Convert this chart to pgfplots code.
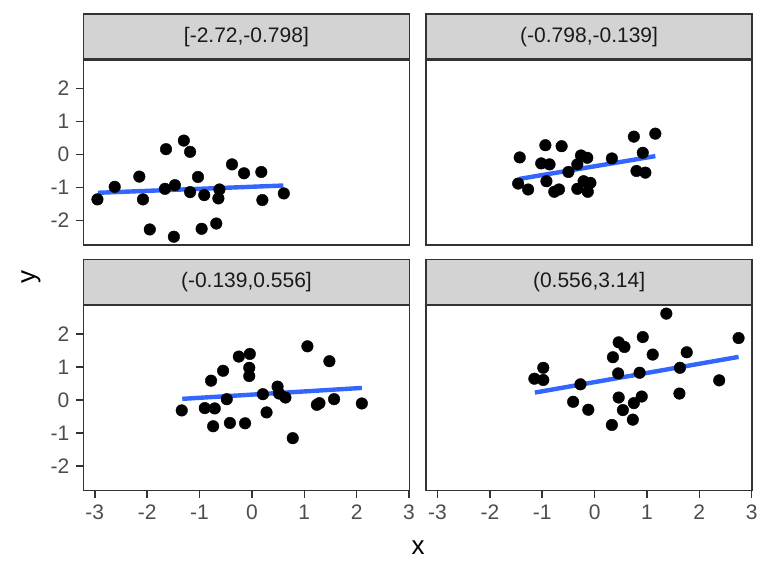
\documentclass[border=0pt]{standalone}
\usepackage{pgfplots}
\pgfplotsset{compat=1.18}
\usepackage{fontspec}
\setmainfont{Liberation Sans}
\definecolor{grey20}{HTML}{333333}
\definecolor{grey30}{HTML}{4D4D4D}
\definecolor{grey10}{HTML}{1A1A1A}
\definecolor{stripfill}{HTML}{D3D3D3}
\definecolor{smoothblue}{HTML}{3366FF}

\pgfplotsset{
  facet/.style={
    scale only axis, width=163.1pt, height=92.5pt,
    xmin=-3.22, xmax=3.01, ymin=-2.74, ymax=2.86,
    axis line style={grey20, line width=0.75pt},
    every tick/.style={grey20, line width=0.75pt},
    major tick length=3.5pt,
    tick align=outside,
    xtick pos=left, ytick pos=left,
    xtick={-3,-2,-1,0,1,2,3}, xticklabels={-3,-2,-1,0,1,2,3},
    ytick={-2,-1,0,1,2}, yticklabels={-2,-1,0,1,2},
    ticklabel style={font=\fontsize{10.5}{12}\selectfont, text=grey30},
    every axis title/.style={at={(0.5,1)}, anchor=south, draw=grey20, line width=0.75pt,
      fill=stripfill, minimum width=163.1pt, minimum height=22.65pt, inner sep=0pt,
      font=\fontsize{10.5}{12}\selectfont, text=grey10},
  },
  pts/.style={only marks, mark=*, mark size=2.9pt, mark options={fill=black, draw=black, line width=0.2pt}},
  fit/.style={no marks, smoothblue, line width=2.2pt},
  notx/.style={xtick=\empty},
  noty/.style={ytick=\empty},
}

\begin{document}
\begin{tikzpicture}
\useasboundingbox (0,0) rectangle (384pt,288pt);

% top-left
\begin{axis}[facet, notx, at={(41.65pt,165.5pt)}, anchor=south west, title={[-2.72,-0.798]}]
\addplot[pts] coordinates {
(-2.95,-1.36) (-2.62,-0.98) (-2.15,-0.67) (-2.08,-1.36) (-1.95,-2.27)
(-1.64,0.16) (-1.66,-1.04) (-1.47,-0.93) (-1.49,-2.49) (-1.30,0.42)
(-1.18,0.08) (-1.18,-1.14) (-1.03,-0.68) (-0.91,-1.23) (-0.96,-2.25)
(-0.68,-2.09) (-0.62,-1.06) (-0.64,-1.33) (-0.38,-0.30) (-0.15,-0.57)
(0.18,-0.53) (0.20,-1.38) (0.61,-1.18)
};
\addplot[fit] coordinates {(-2.94,-1.16) (0.60,-0.94)};
\end{axis}

% top-right
\begin{axis}[facet, notx, noty, at={(213pt,165.5pt)}, anchor=south west, title={(-0.798,-0.139]}]
\addplot[pts] coordinates {
(-1.43,-0.09) (-1.46,-0.88) (-1.27,-1.06) (-0.94,0.28) (-1.02,-0.27)
(-0.86,-0.30) (-0.92,-0.81) (-0.77,-1.13) (-0.68,-1.06) (-0.63,0.25)
(-0.50,-0.53) (-0.33,-0.30) (-0.26,-0.03) (-0.14,-0.10) (-0.33,-1.04)
(-0.21,-0.81) (-0.08,-0.86) (-0.13,-1.13) (0.33,-0.12) (0.75,0.54)
(1.16,0.63) (0.92,0.05) (0.80,-0.50) (0.97,-0.55)
};
\addplot[fit] coordinates {(-1.44,-0.74) (1.16,-0.05)};
\end{axis}

% bottom-left
\begin{axis}[facet, at={(41.65pt,42.65pt)}, anchor=south west, title={(-0.139,0.556]}]
\addplot[pts] coordinates {
(-1.34,-0.31) (-0.90,-0.24) (-0.71,-0.25) (-0.74,-0.79) (-0.78,0.59)
(-0.55,0.89) (-0.48,0.03) (-0.42,-0.69) (-0.25,1.32) (-0.04,1.40)
(-0.05,0.98) (-0.05,0.73) (-0.13,-0.70) (0.21,0.18) (0.28,-0.37)
(0.49,0.41) (0.52,0.20) (0.64,0.08) (0.78,-1.15) (1.06,1.63)
(1.24,-0.14) (1.29,-0.09) (1.48,1.18) (1.57,0.03) (2.10,-0.10)
};
\addplot[fit] coordinates {(-1.33,0.04) (2.10,0.37)};
\end{axis}

% bottom-right
\begin{axis}[facet, noty, at={(213pt,42.65pt)}, anchor=south west, title={(0.556,3.14]}]
\addplot[pts] coordinates {
(-1.15,0.65) (-0.98,0.98) (-0.98,0.61) (-0.27,0.48) (-0.41,-0.05)
(-0.12,-0.29) (0.35,1.30) (0.46,1.75) (0.57,1.61) (0.45,0.81)
(0.46,0.08) (0.54,-0.30) (0.33,-0.75) (0.73,-0.59) (0.75,-0.09)
(0.90,0.11) (0.86,0.83) (0.92,1.91) (1.11,1.38) (1.37,2.62)
(1.63,0.98) (1.62,0.20) (1.76,1.45) (2.38,0.60) (2.75,1.88)
};
\addplot[fit] coordinates {(-1.14,0.23) (2.75,1.31)};
\end{axis}

\node[font=\fontsize{13}{15}\selectfont, text=black] at (209pt,14pt) {x};
\node[font=\fontsize{13}{15}\selectfont, text=black, rotate=90] at (15.5pt,149.6pt) {y};
\end{tikzpicture}
\end{document}
